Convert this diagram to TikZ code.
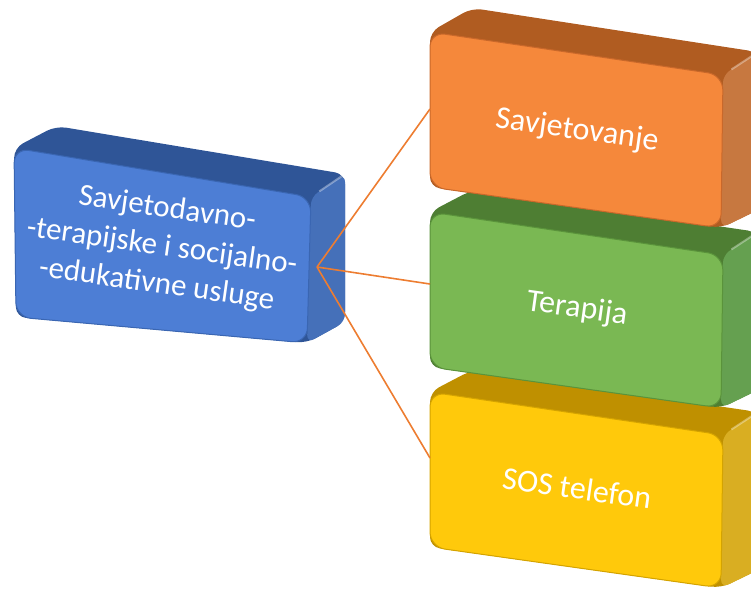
\documentclass[tikz,border=0pt]{standalone}
\usepackage{fontspec}
\setmainfont{Carlito}
\definecolor{btop}{HTML}{2F5597}
\definecolor{bside}{HTML}{4570B9}
\definecolor{bfront}{HTML}{4D7ED5}
\definecolor{bline}{HTML}{3A66B2}
\definecolor{otop}{HTML}{B05C21}
\definecolor{oside}{HTML}{C77840}
\definecolor{ofront}{HTML}{F5883B}
\definecolor{oline}{HTML}{C9682A}
\definecolor{gtop}{HTML}{4E7E33}
\definecolor{gside}{HTML}{65A050}
\definecolor{gfront}{HTML}{7AB853}
\definecolor{gline}{HTML}{5A933B}
\definecolor{ytop}{HTML}{BF9000}
\definecolor{yside}{HTML}{D9AE22}
\definecolor{yfront}{HTML}{FFC90B}
\definecolor{yline}{HTML}{D4A300}
\definecolor{conn}{HTML}{ED7D31}
\newcommand{\cubebox}[8]{%
  \fill[#8top, rounded corners=10pt] #4 -- #1 -- #5 -- #6 -- #7 -- #3 -- cycle;
  \fill[#8side, rounded corners=8pt] #2 -- #6 -- #7 -- #3 -- cycle;
  \draw[white, opacity=0.35, line width=2pt, shorten <=10pt, shorten >=4pt] #2 -- #6;
  \filldraw[fill=#8front, draw=#8line, line width=1pt, rounded corners=15pt] #1 -- #2 -- #3 -- #4 -- cycle;
}
\tikzset{
  boxtext/.style={text=white, align=center, rotate=-8, font=\fontsize{32}{38}\selectfont, inner sep=0pt},
  bigtext/.style={boxtext, font=\fontsize{31}{38}\selectfont},
  connector/.style={draw=conn, line width=1.6pt}
}
\begin{document}
\begin{tikzpicture}[x=1pt, y=-1pt]
\useasboundingbox (0,0) rectangle (751,592);
\clip (0,0) rectangle (751,592);
% blue box
\cubebox{(14,148)}{(311,197)}{(307,343)}{(16,317)}{(56,126)}{(345,174)}{(345,322)}{b}
% yellow, green, orange boxes
\cubebox{(430,392)}{(723,435)}{(721,588)}{(430,547)}{(472,370)}{(758,412)}{(758,570)}{y}
\cubebox{(430,212)}{(723,255)}{(721,408)}{(430,367)}{(472,190)}{(758,232)}{(758,390)}{g}
\cubebox{(430,32)}{(723,75)}{(721,228)}{(430,187)}{(472,8)}{(758,52)}{(758,210)}{o}
% texts
\node[bigtext] (main) at (162,247) {Savjetodavno-\\-terapijske i socijalno-\\-edukativne usluge};
\node[boxtext] (sav) at (577,131) {Savjetovanje};
\node[boxtext] (ter) at (577,309) {Terapija};
\node[boxtext] (sos) at (577,488) {SOS telefon};
% connectors
\coordinate (hub) at (317,267);
\coordinate (oin) at (430,109);
\coordinate (gin) at (430,284);
\coordinate (yin) at (430,458);
\draw[connector] (hub) -- (oin);
\draw[connector] (hub) -- (gin);
\draw[connector] (hub) -- (yin);
\end{tikzpicture}
\end{document}
